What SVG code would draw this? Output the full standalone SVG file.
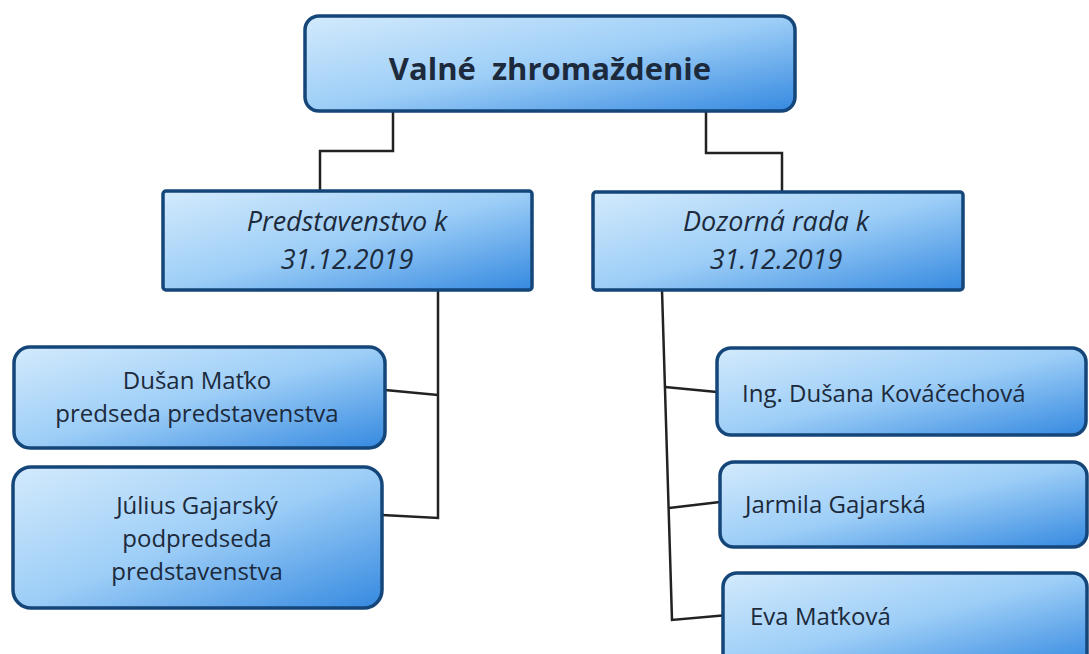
<svg xmlns="http://www.w3.org/2000/svg" width="1089" height="654" viewBox="0 0 1089 654">
<defs>
<linearGradient id="blue" x1="0" y1="0" x2="1" y2="1">
<stop offset="0" stop-color="#d3eafc"/>
<stop offset="0.5" stop-color="#9dcef7"/>
<stop offset="1" stop-color="#3589e0"/>
</linearGradient>
<style>
.box{fill:url(#blue);stroke:#154679;stroke-width:3.5}
.t{font-family:"Open Sans","Noto Sans",sans-serif;fill:#1c2a3c}
.title{font-size:31px;font-weight:bold;text-anchor:middle}
.it{font-size:27px;font-style:italic;text-anchor:middle}
.n{font-size:24px;text-anchor:middle}
.l{font-size:24px}
.c{fill:none;stroke:#222;stroke-width:2.5;stroke-linejoin:miter}
</style>
</defs>
<rect width="1089" height="654" fill="#ffffff"/>
<g id="connectors">
<polyline class="c" points="393,111 393,151 320,151 320,191"/>
<polyline class="c" points="706,111 706,153 782,153 782,192"/>
<polyline class="c" points="438,290 438,518 382,515"/>
<line class="c" x1="385" y1="390" x2="438" y2="395"/>
<polyline class="c" points="662,290 672,620 728,615"/>
<line class="c" x1="665" y1="387" x2="717" y2="392"/>
<line class="c" x1="669" y1="508" x2="720" y2="502"/>
</g>
<g id="valne-zhromazdenie">
<rect class="box" x="305" y="16" width="490" height="95" rx="14"/>
<text class="t title" x="550" y="80" xml:space="preserve">Valné  zhromaždenie</text>
</g>
<g id="predstavenstvo">
<rect class="box" x="163" y="191" width="369" height="99" rx="3"/>
<text class="t it" x="347" y="231">Predstavenstvo k</text>
<text class="t it" x="347" y="269">31.12.2019</text>
</g>
<g id="dozorna-rada">
<rect class="box" x="593" y="192" width="370" height="98" rx="3"/>
<text class="t it" x="776" y="231">Dozorná rada k</text>
<text class="t it" x="776" y="269">31.12.2019</text>
</g>
<g id="dusan-matko">
<rect class="box" x="14" y="347" width="371" height="101" rx="16"/>
<text class="t n" x="197" y="389">Dušan Maťko</text>
<text class="t n" x="197" y="422">predseda predstavenstva</text>
</g>
<g id="julius-gajarsky">
<rect class="box" x="13" y="467" width="369" height="141" rx="18"/>
<text class="t n" x="197" y="514">Július Gajarský</text>
<text class="t n" x="197" y="547">podpredseda</text>
<text class="t n" x="197" y="580">predstavenstva</text>
</g>
<g id="dusana-kovacechova">
<rect class="box" x="717" y="348" width="369" height="87" rx="14"/>
<text class="t l" x="742" y="402">Ing. Dušana Kováčechová</text>
</g>
<g id="jarmila-gajarska">
<rect class="box" x="720" y="462" width="367" height="85" rx="14"/>
<text class="t l" x="745" y="513">Jarmila Gajarská</text>
</g>
<g id="eva-matkova">
<rect class="box" x="723" y="573" width="364" height="95" rx="14"/>
<text class="t l" x="750" y="625">Eva Maťková</text>
</g>
</svg>
